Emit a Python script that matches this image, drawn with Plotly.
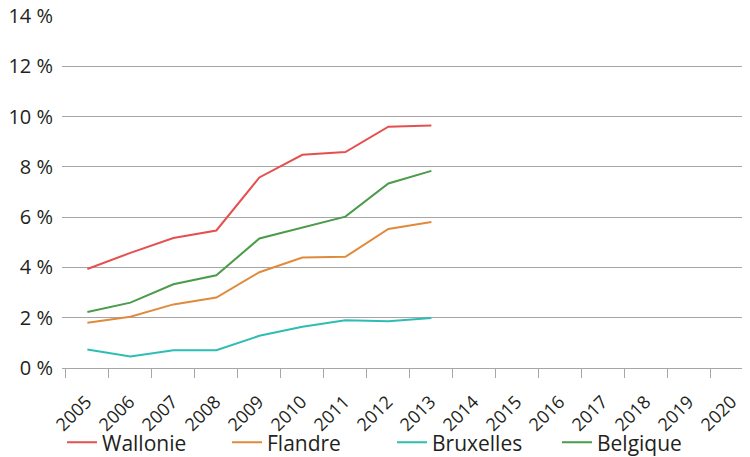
import plotly.graph_objects as go

years = [str(y) for y in range(2005, 2021)]
data_years = [str(y) for y in range(2005, 2014)]

wallonie = [3.94, 4.58, 5.17, 5.47, 7.58, 8.48, 8.59, 9.60, 9.64]
flandre = [1.80, 2.04, 2.53, 2.80, 3.81, 4.39, 4.42, 5.53, 5.81]
bruxelles = [0.74, 0.46, 0.71, 0.71, 1.28, 1.64, 1.90, 1.86, 1.99]
belgique = [2.23, 2.60, 3.33, 3.69, 5.15, 5.59, 6.02, 7.34, 7.84]

series = [
    ("Wallonie", wallonie, "#E5504F"),
    ("Flandre", flandre, "#E08A3C"),
    ("Bruxelles", bruxelles, "#2DBDB4"),
    ("Belgique", belgique, "#4A9B4A"),
]

y_ticks = list(range(0, 15, 2))
y_labels = [f"{v}\u00a0%" for v in y_ticks]

FONT = "Open Sans"
TXT = "#231F20"

fig = go.Figure()
for name, vals, col in series:
    fig.add_trace(go.Scatter(
        x=data_years, y=vals, name=name, mode="lines",
        line=dict(color=col, width=2),
    ))

# page body adds an 8px offset; the figure is sized to fit the window
fig.update_layout(
    width=742, height=449,
    margin=dict(l=54, r=0, t=8, b=89, autoexpand=False),
    paper_bgcolor="white", plot_bgcolor="white",
    font=dict(family=FONT, size=20, color=TXT),
    showlegend=True,
    legend=dict(
        orientation="h", x=0.0, xanchor="left", y=-0.154, yanchor="top",
        bgcolor="rgba(0,0,0,0)",
        font=dict(family=FONT, size=21, color=TXT),
        entrywidth=120, entrywidthmode="pixels",
        itemwidth=30, tracegroupgap=0,
    ),
)

fig.update_xaxes(
    type="category", categoryorder="array", categoryarray=years,
    tickvals=years, ticktext=years,
    range=[-0.59, 15.41], automargin=False,
    tickson="boundaries", ticks="outside", ticklen=9, tickcolor="#A6A6A6",
    tickangle=-45, tickfont=dict(family=FONT, size=18, color=TXT),
    ticklabelshift=-1, ticklabelstandoff=15, ticklabeloverflow="allow",
    showline=True, linecolor="#A6A6A6", linewidth=1.3,
    showgrid=False, zeroline=False,
)

fig.update_yaxes(
    range=[0, 14], tickvals=y_ticks, ticktext=y_labels, automargin=False,
    showgrid=True, gridcolor="#A6A6A6", gridwidth=1.3,
    zeroline=False, showline=False, ticks="",
    tickfont=dict(family=FONT, size=20, color=TXT),
    ticklabelstandoff=8, ticklabeloverflow="allow",
)

fig.write_html("out.html")
